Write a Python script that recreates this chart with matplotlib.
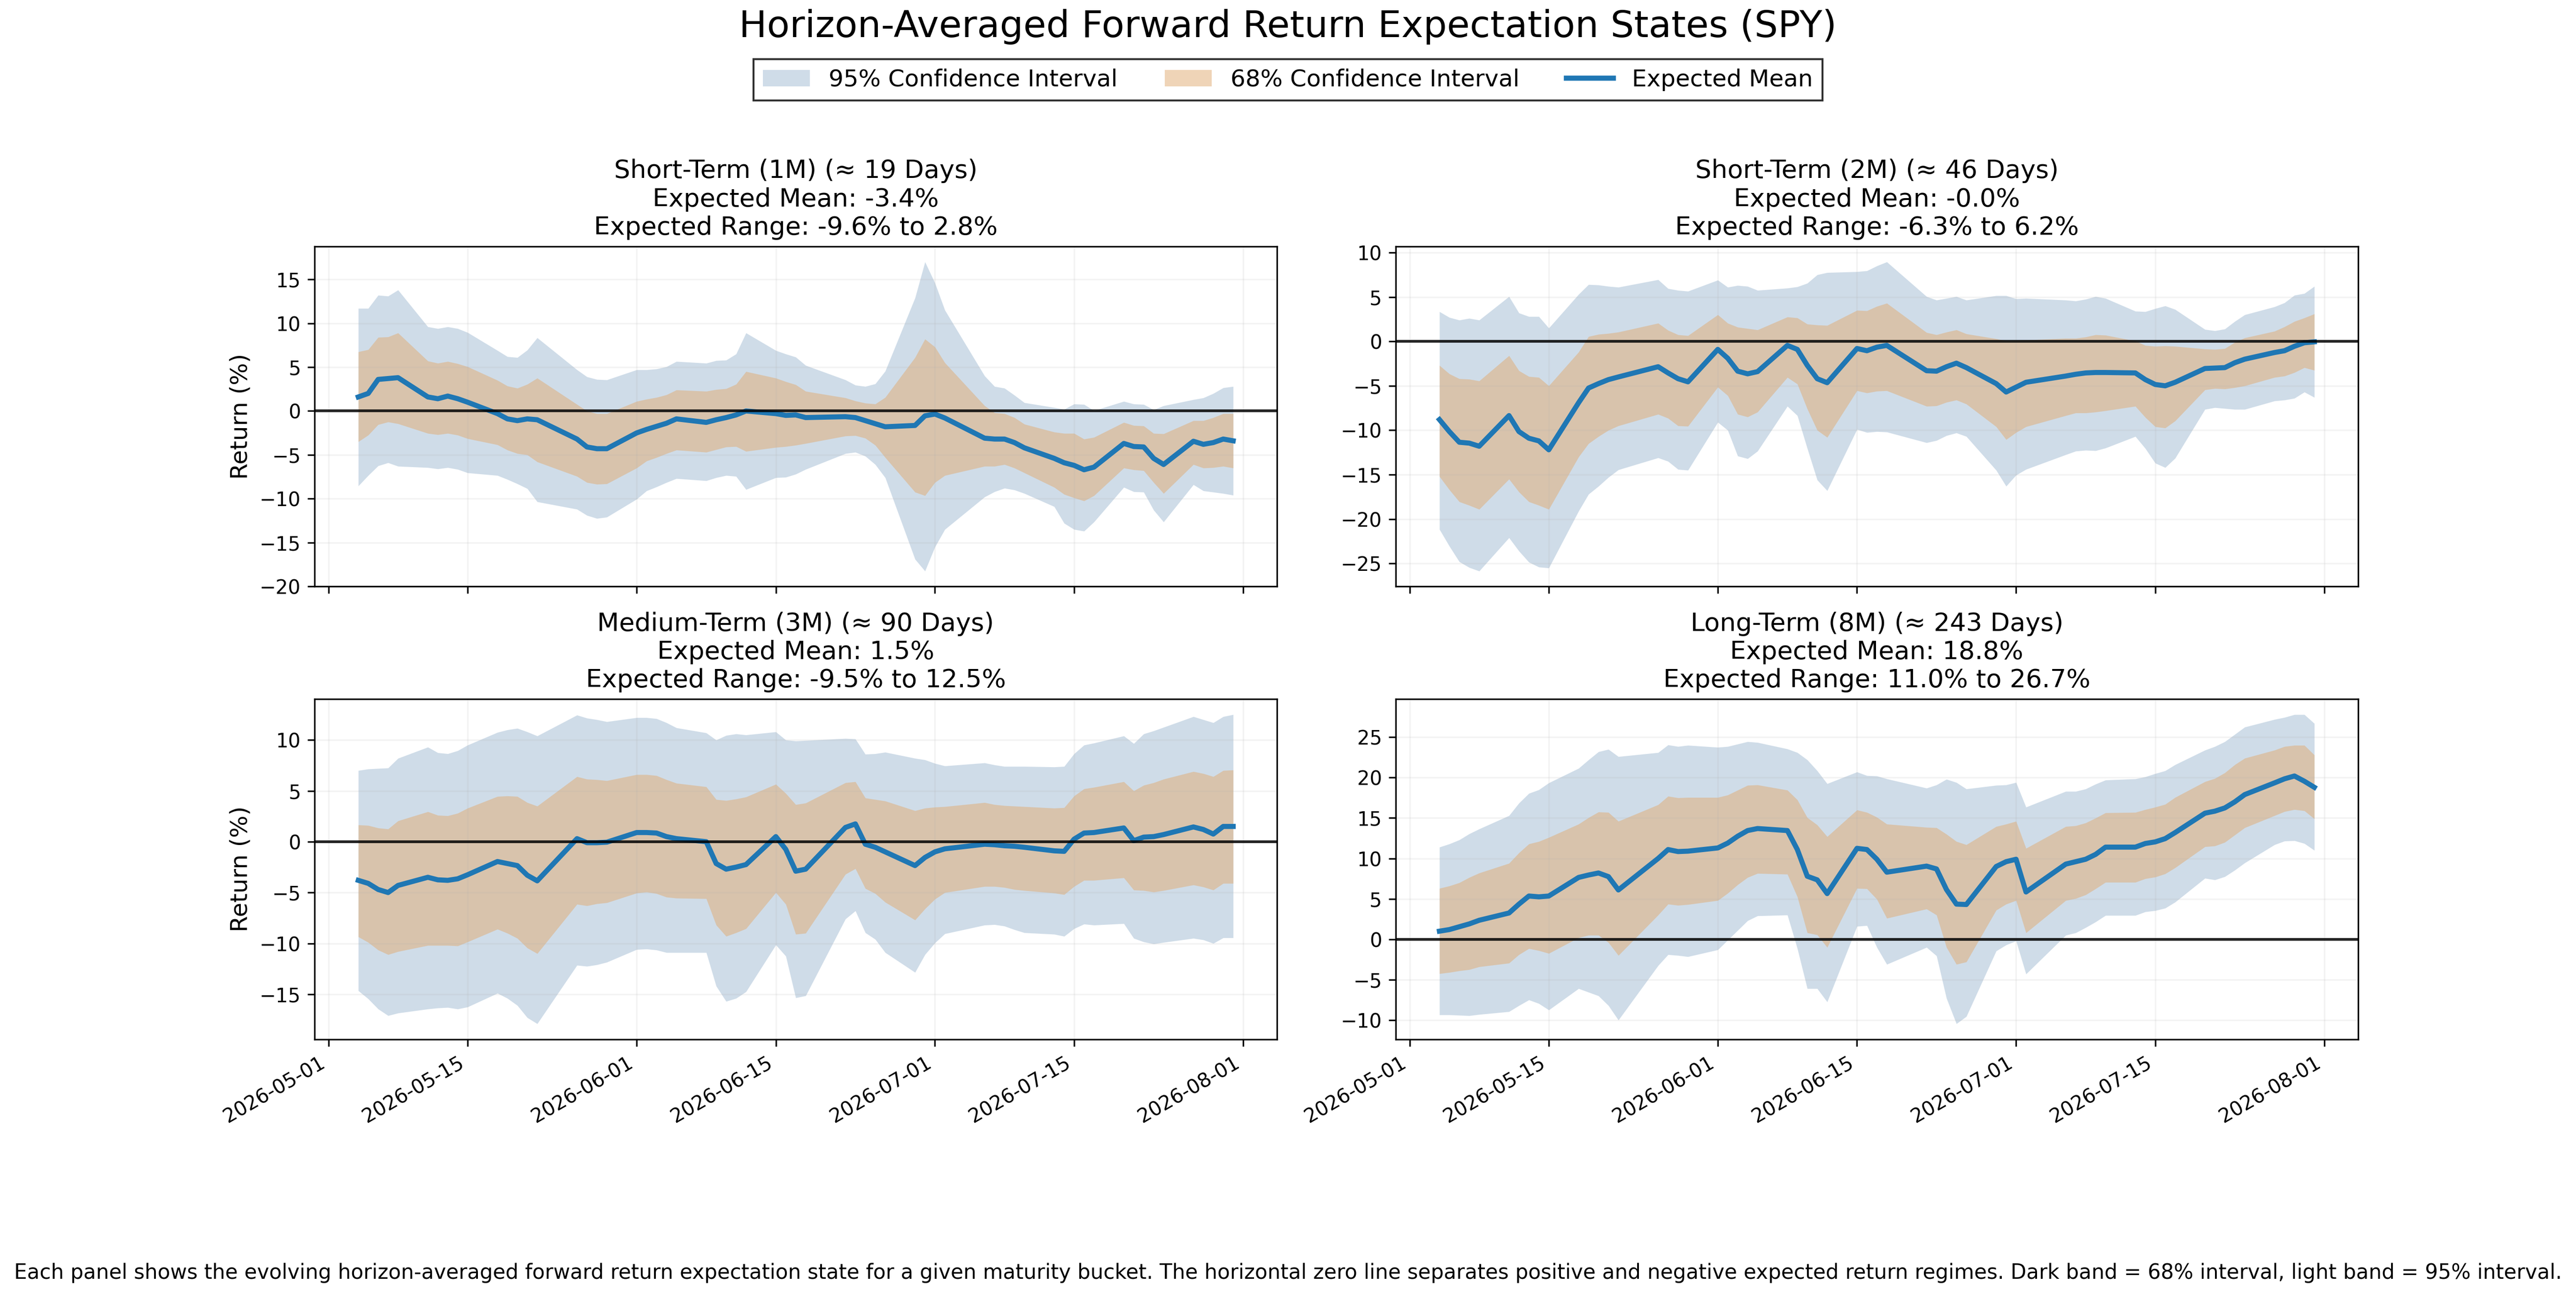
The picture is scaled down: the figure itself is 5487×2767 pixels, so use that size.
import matplotlib
matplotlib.use("Agg")
import matplotlib.pyplot as plt
from matplotlib.ticker import MultipleLocator
import pandas as pd

# trading days (NYSE holidays removed)
dates = pd.bdate_range("2026-05-04", "2026-07-31", freq="C",
                       holidays=["2026-05-25", "2026-06-19", "2026-07-03"])

titles = [
    "Short-Term (1M) (≈ 19 Days)\nExpected Mean: -3.4%\nExpected Range: -9.6% to 2.8%",
    "Short-Term (2M) (≈ 46 Days)\nExpected Mean: -0.0%\nExpected Range: -6.3% to 6.2%",
    "Medium-Term (3M) (≈ 90 Days)\nExpected Mean: 1.5%\nExpected Range: -9.5% to 12.5%",
    "Long-Term (8M) (≈ 243 Days)\nExpected Mean: 18.8%\nExpected Range: 11.0% to 26.7%",
]

# ---- 1M ----
mean_1m = [1.6, 2.0, 3.6, 3.7, 3.8,
           1.6, 1.4, 1.7, 1.4, 1.0,
           -0.3, -0.9, -1.1, -0.9, -1.0,
           -3.2, -4.1, -4.3, -4.3,
           -2.5, -2.1, -1.75, -1.4, -0.9,
           -1.3, -1.0, -0.75, -0.45, 0.0,
           -0.3, -0.5, -0.45, -0.75,
           -0.65, -0.75, -1.1, -1.45, -1.8,
           -1.65, -0.55, -0.35, -0.8,
           -3.1, -3.2, -3.2, -3.6, -4.2,
           -5.4, -5.9, -6.2, -6.7, -6.4,
           -3.7, -4.05, -4.1, -5.4, -6.1,
           -3.45, -3.8, -3.6, -3.2, -3.4]
hi95_1m = [11.7, 11.7, 13.2, 13.1, 13.8,
           9.6, 9.4, 9.6, 9.4, 8.95,
           6.9, 6.2, 6.1, 6.95, 8.35,
           4.7, 3.9, 3.6, 3.55,
           4.7, 4.7, 4.8, 5.05, 5.65,
           5.45, 5.75, 5.8, 6.5, 8.9,
           6.9, 6.5, 6.15, 5.2,
           3.55, 2.95, 2.8, 3.1, 4.55,
           12.9, 17.0, 14.6, 11.5,
           4.0, 2.8, 2.6, 1.8, 0.95,
           0.4, 0.2, 0.8, 0.75, 0.05,
           1.1, 0.8, 0.75, 0.15, 0.6,
           1.3, 1.5, 2.0, 2.65, 2.8]
hi68_1m = [6.75, 7.0, 8.4, 8.45, 8.9,
           5.7, 5.45, 5.65, 5.4, 5.05,
           3.5, 2.85, 2.6, 3.05, 3.75,
           0.75, 0.0, -0.3, -0.3,
           1.1, 1.35, 1.55, 1.85, 2.4,
           2.25, 2.45, 2.55, 3.05, 4.5,
           3.75, 3.35, 3.0, 2.25,
           1.5, 1.15, 0.9, 0.8, 1.55,
           6.1, 8.2, 7.3, 5.5,
           0.6, -0.2, -0.3, -0.75, -1.5,
           -2.4, -2.55, -2.55, -3.2, -3.0,
           -1.3, -1.65, -1.7, -2.55, -2.6,
           -1.1, -1.1, -0.75, -0.3, -0.3]
lo68_1m = [-3.5, -2.75, -1.55, -1.25, -1.45,
           -2.55, -2.7, -2.55, -2.75, -3.15,
           -3.85, -4.45, -4.85, -5.0, -5.8,
           -7.45, -8.15, -8.35, -8.3,
           -6.5, -5.7, -5.3, -4.85, -4.45,
           -4.7, -4.4, -4.1, -4.05, -4.6,
           -4.15, -4.05, -3.9, -3.7,
           -2.85, -2.8, -3.1, -3.9, -5.3,
           -9.25, -9.65, -8.15, -7.35,
           -6.3, -6.3, -6.1, -6.5, -7.05,
           -8.7, -9.5, -9.9, -10.25, -9.65,
           -6.5, -6.7, -6.8, -8.15, -9.4,
           -6.1, -6.5, -6.45, -6.3, -6.5]
lo95_1m = [-8.55, -7.35, -6.25, -5.9, -6.3,
           -6.45, -6.6, -6.45, -6.65, -7.05,
           -7.35, -7.8, -8.3, -8.85, -10.35,
           -11.2, -11.9, -12.25, -12.1,
           -10.05, -9.1, -8.65, -8.15, -7.7,
           -7.95, -7.6, -7.35, -7.45, -8.95,
           -7.6, -7.55, -7.2, -6.65,
           -4.85, -4.7, -5.15, -6.1, -7.6,
           -16.9, -18.25, -15.5, -13.5,
           -9.8, -9.2, -8.8, -9.0, -9.4,
           -10.9, -12.8, -13.5, -13.7, -12.65,
           -8.7, -9.2, -9.25, -11.3, -12.65,
           -8.4, -9.1, -9.25, -9.4, -9.6]

# ---- 2M ----
mean_2m = [-8.8, -10.15, -11.35, -11.45, -11.8,
           -8.35, -10.15, -10.9, -11.2, -12.2,
           -6.9, -5.25, -4.75, -4.3, -4.0,
           -2.85, -3.55, -4.2, -4.55,
           -0.9, -1.9, -3.35, -3.65, -3.4,
           -0.45, -0.9, -2.7, -4.2, -4.65,
           -0.8, -1.05, -0.65, -0.45,
           -3.3, -3.35, -2.85, -2.45, -2.95,
           -4.75, -5.7, -5.15, -4.6,
           -3.9, -3.7, -3.55, -3.5, -3.5,
           -3.55, -4.3, -4.85, -5.0, -4.6,
           -3.05, -3.0, -2.95, -2.4, -2.0,
           -1.25, -1.05, -0.55, -0.15, -0.05]
hi95_2m = [3.35, 2.7, 2.4, 2.6, 2.4,
           5.05, 3.2, 2.8, 2.8, 1.5,
           5.3, 6.4, 6.35, 6.2, 6.1,
           6.95, 5.95, 5.75, 5.65,
           6.9, 6.1, 6.3, 6.2, 5.75,
           6.0, 6.15, 6.55, 7.5, 7.75,
           7.85, 7.95, 8.5, 8.95,
           5.05, 4.65, 4.85, 5.05, 4.65,
           5.15, 5.15, 4.8, 4.85,
           4.65, 4.55, 4.75, 5.05, 4.85,
           3.4, 3.35, 3.7, 4.0, 3.6,
           1.35, 1.2, 1.4, 2.25, 3.0,
           3.9, 4.35, 5.2, 5.4, 6.2]
hi68_2m = [-2.7, -3.65, -4.2, -4.25, -4.45,
           -1.6, -3.3, -3.95, -4.05, -5.0,
           -1.2, 0.55, 0.8, 0.9, 1.05,
           2.05, 1.25, 0.75, 0.65,
           3.0, 2.05, 1.6, 1.45, 1.3,
           2.75, 2.65, 1.95, 1.85, 1.8,
           3.5, 3.45, 3.95, 4.3,
           1.0, 0.75, 1.05, 1.3, 0.85,
           0.3, 0.05, 0.1, 0.15,
           0.35, 0.35, 0.5, 0.75, 0.7,
           0.05, -0.45, -0.55, -0.5, -0.55,
           -0.85, -0.9, -0.8, -0.1, 0.4,
           1.15, 1.65, 2.25, 2.65, 3.1]
lo68_2m = [-15.2, -16.7, -18.05, -18.45, -18.9,
           -15.5, -16.95, -18.05, -18.45, -18.9,
           -13.0, -11.5, -10.7, -10.0, -9.5,
           -8.2, -8.65, -9.5, -9.55,
           -5.15, -6.1, -8.2, -8.5, -7.95,
           -4.05, -4.8, -7.6, -10.0, -10.8,
           -5.55, -5.8, -5.6, -5.55,
           -7.3, -7.25, -6.85, -6.6, -7.05,
           -9.6, -11.05, -10.25, -9.6,
           -8.35, -8.05, -8.05, -7.95, -7.8,
           -7.3, -8.55, -9.6, -9.75, -8.95,
           -5.45, -5.3, -5.35, -5.2, -5.0,
           -4.05, -3.9, -3.5, -2.95, -3.25]
lo95_2m = [-21.15, -23.05, -24.8, -25.45, -25.85,
           -22.1, -23.6, -24.85, -25.4, -25.5,
           -19.1, -17.2, -16.3, -15.3, -14.45,
           -13.1, -13.5, -14.4, -14.5,
           -9.1, -10.0, -12.9, -13.2, -12.35,
           -7.3, -8.35, -12.05, -15.6, -16.8,
           -9.9, -10.25, -10.15, -10.2,
           -11.4, -11.15, -10.6, -10.3, -10.7,
           -14.5, -16.3, -15.05, -14.4,
           -12.75, -12.35, -12.25, -12.3, -12.0,
           -10.7, -12.05, -13.7, -14.2, -13.15,
           -7.65, -7.45, -7.55, -7.65, -7.65,
           -6.7, -6.6, -6.4, -5.7, -6.3]

# ---- 3M ----
mean_3m = [-3.8, -4.1, -4.7, -5.0, -4.3,
           -3.5, -3.75, -3.8, -3.65, -3.25,
           -1.95, -2.15, -2.35, -3.3, -3.85,
           0.3, -0.1, -0.1, -0.05,
           0.9, 0.9, 0.85, 0.5, 0.3,
           0.0, -2.15, -2.7, -2.5, -2.25,
           0.5, -0.75, -2.9, -2.7,
           1.4, 1.75, -0.25, -0.55, -1.0,
           -2.35, -1.55, -1.0, -0.7,
           -0.25, -0.3, -0.4, -0.45, -0.55,
           -0.9, -0.95, 0.25, 0.85, 0.9,
           1.35, 0.1, 0.45, 0.5, 0.7,
           1.45, 1.2, 0.75, 1.5, 1.5]
hi95_3m = [7.0, 7.15, 7.2, 7.25, 8.2,
           9.3, 8.75, 8.65, 8.95, 9.5,
           10.75, 11.0, 11.15, 10.8, 10.4,
           12.45, 12.15, 12.0, 11.8,
           12.2, 12.2, 12.1, 11.7, 11.2,
           10.7, 10.0, 10.45, 10.6, 10.5,
           10.8, 10.0, 9.9, 9.95,
           10.15, 10.1, 8.6, 8.65, 8.8,
           8.2, 8.05, 7.7, 7.45,
           7.75, 7.55, 7.4, 7.4, 7.4,
           7.35, 7.4, 8.65, 9.5, 9.7,
           10.4, 9.65, 10.6, 10.9, 11.25,
           12.3, 12.0, 11.7, 12.3, 12.5]
hi68_3m = [1.65, 1.6, 1.35, 1.25, 2.05,
           2.95, 2.6, 2.55, 2.8, 3.3,
           4.45, 4.5, 4.45, 3.85, 3.5,
           6.4, 6.15, 6.1, 6.0,
           6.6, 6.6, 6.5, 6.1, 5.75,
           5.4, 4.15, 4.05, 4.2, 4.4,
           5.65, 4.75, 3.65, 3.8,
           5.8, 5.9, 4.3, 4.15, 4.0,
           3.05, 3.3, 3.4, 3.45,
           3.85, 3.65, 3.55, 3.5, 3.45,
           3.3, 3.35, 4.5, 5.2, 5.35,
           5.9, 5.0, 5.55, 5.8, 6.15,
           6.9, 6.7, 6.4, 7.0, 7.05]
lo68_3m = [-9.35, -9.9, -10.65, -11.1, -10.8,
           -10.2, -10.2, -10.2, -10.25, -9.85,
           -8.6, -9.0, -9.5, -10.45, -11.0,
           -6.15, -6.3, -6.1, -6.0,
           -5.05, -4.95, -5.1, -5.45, -5.55,
           -5.6, -8.2, -9.3, -8.95, -8.55,
           -5.0, -6.15, -9.1, -9.0,
           -3.2, -2.65, -4.6, -5.1, -5.95,
           -7.7, -6.6, -5.65, -5.0,
           -4.4, -4.4, -4.5, -4.7, -4.8,
           -5.05, -5.2, -4.4, -3.8, -3.8,
           -3.55, -4.75, -4.8, -4.95, -4.8,
           -4.25, -4.45, -4.75, -4.1, -4.1]
lo95_3m = [-14.65, -15.45, -16.45, -17.1, -16.85,
           -16.45, -16.35, -16.3, -16.45, -16.25,
           -14.9, -15.4, -16.1, -17.3, -17.9,
           -12.15, -12.25, -12.1, -11.85,
           -10.6, -10.55, -10.65, -10.9, -10.9,
           -10.9, -14.2, -15.7, -15.4, -14.75,
           -10.15, -11.25, -15.35, -15.15,
           -7.6, -6.8, -8.95, -9.6, -10.9,
           -12.85, -11.1, -9.95, -9.05,
           -8.2, -8.15, -8.3, -8.65, -8.95,
           -9.1, -9.3, -8.55, -8.1, -8.2,
           -8.05, -9.5, -9.85, -10.05, -9.9,
           -9.5, -9.65, -10.0, -9.45, -9.45]

# ---- 8M ----
mean_8m = [1.0, 1.2, 1.55, 1.9, 2.35,
           3.25, 4.35, 5.35, 5.25, 5.35,
           7.65, 7.95, 8.2, 7.75, 6.1,
           10.0, 11.1, 10.85, 10.9,
           11.3, 11.9, 12.75, 13.45, 13.7,
           13.45, 11.1, 7.8, 7.35, 5.65,
           11.25, 11.1, 9.9, 8.3,
           9.05, 8.7, 6.15, 4.35, 4.3,
           9.0, 9.6, 9.9, 5.85,
           9.3, 9.6, 9.9, 10.5, 11.4,
           11.4, 11.85, 12.05, 12.45, 13.2,
           15.6, 15.85, 16.25, 17.0, 17.9,
           19.35, 19.85, 20.2, 19.55, 18.8]
hi95_8m = [11.4, 11.8, 12.3, 13.05, 13.65,
           15.3, 16.85, 18.05, 18.5, 19.35,
           21.15, 22.2, 23.2, 23.5, 22.6,
           23.1, 24.05, 23.85, 24.0,
           23.75, 23.85, 24.15, 24.45, 24.35,
           23.55, 23.1, 22.2, 20.85, 19.25,
           20.7, 20.25, 20.2, 19.85,
           18.7, 19.1, 19.8, 19.4, 18.6,
           19.05, 19.1, 19.4, 16.35,
           18.3, 18.3, 18.6, 19.2, 19.7,
           19.85, 20.1, 20.5, 20.85, 21.6,
           23.4, 23.85, 24.45, 25.35, 26.25,
           27.2, 27.45, 27.8, 27.8, 26.7]
hi68_8m = [6.3, 6.6, 7.0, 7.65, 8.2,
           9.4, 10.7, 11.8, 12.1, 12.6,
           14.25, 15.05, 15.75, 15.7, 14.6,
           16.65, 17.7, 17.5, 17.55,
           17.55, 17.85, 18.45, 19.05, 19.1,
           18.45, 17.25, 15.05, 14.15, 12.7,
           16.0, 15.7, 15.1, 14.25,
           13.85, 13.8, 13.0, 12.1, 11.7,
           13.95, 14.25, 14.6, 11.25,
           13.95, 14.05, 14.4, 15.0, 15.65,
           15.7, 16.05, 16.35, 16.7, 17.55,
           19.5, 19.9, 20.6, 21.6, 22.4,
           23.4, 23.85, 24.0, 24.0, 22.8]
lo68_8m = [-4.25, -4.1, -3.9, -3.75, -3.4,
           -2.95, -1.9, -1.15, -1.4, -1.75,
           0.2, 0.5, 0.5, -0.4, -2.0,
           3.0, 4.35, 4.2, 4.3,
           4.8, 5.7, 6.75, 7.65, 8.15,
           8.05, 5.25, 0.8, 0.55, -1.0,
           6.3, 6.25, 4.95, 2.6,
           3.75, 3.0, -1.0, -3.1, -2.8,
           3.6, 4.35, 4.8, 0.8,
           4.8, 5.05, 5.5, 6.25, 7.05,
           7.05, 7.5, 7.7, 8.1, 8.85,
           11.45, 11.55, 12.0, 12.9, 13.8,
           15.3, 15.8, 16.05, 15.9, 14.9]
lo95_8m = [-9.35, -9.35, -9.4, -9.45, -9.3,
           -8.95, -8.2, -7.5, -7.95, -8.75,
           -6.1, -6.55, -7.0, -8.2, -10.0,
           -3.25, -1.9, -2.0, -2.15,
           -1.3, -0.1, 1.1, 2.3, 2.9,
           3.0, -1.15, -6.1, -6.1, -7.75,
           1.6, 1.7, -1.0, -3.1,
           -1.0, -2.05, -7.3, -10.45, -9.55,
           -1.45, -0.7, -0.2, -4.3,
           0.5, 0.8, 1.45, 2.15, 2.95,
           2.95, 3.4, 3.55, 3.85, 4.6,
           7.55, 7.35, 7.75, 8.55, 9.45,
           11.7, 12.15, 12.2, 11.85, 11.0]

panels = [
    (mean_1m, lo95_1m, hi95_1m, lo68_1m, hi68_1m),
    (mean_2m, lo95_2m, hi95_2m, lo68_2m, hi68_2m),
    (mean_3m, lo95_3m, hi95_3m, lo68_3m, hi68_3m),
    (mean_8m, lo95_8m, hi95_8m, lo68_8m, hi68_8m),
]

fig, axes = plt.subplots(2, 2, figsize=(5487 / 300, 2767 / 300), dpi=300, sharex=True)
fig.subplots_adjust(left=0.1221, right=0.9154, top=0.8103, bottom=0.1258,
                    wspace=0.1234, hspace=0.331)

for k, ax in enumerate(axes.flat):
    mean, lo95, hi95, lo68, hi68 = panels[k]
    ax.fill_between(dates, lo95, hi95, color="#a1bbd3", alpha=0.5, lw=0,
                    label="95% Confidence Interval")
    ax.fill_between(dates, lo68, hi68, color="#e1ab71", alpha=0.5, lw=0,
                    label="68% Confidence Interval")
    ax.plot(dates, mean, color="#1f77b4", lw=2.6, label="Expected Mean")
    ax.axhline(0, color="black", lw=1.4, alpha=0.85)
    ax.set_title(titles[k], fontsize=13)
    ax.yaxis.set_major_locator(MultipleLocator(5))
    ax.grid(True, alpha=0.15)
    ax.tick_params(labelsize=10)
    if k % 2 == 0:
        ax.set_ylabel("Return (%)", fontsize=12)

fig.autofmt_xdate()

handles, labels = axes[0, 0].get_legend_handles_labels()
fig.legend(handles, labels, loc="upper center", bbox_to_anchor=(0.5, 0.9635),
           ncol=3, fontsize=12, fancybox=False, edgecolor="0.2", framealpha=1)

fig.suptitle("Horizon-Averaged Forward Return Expectation States (SPY)",
             fontsize=19, y=0.993)
fig.text(0.5, 0.02,
         "Each panel shows the evolving horizon-averaged forward return expectation state "
         "for a given maturity bucket. The horizontal zero line separates positive and "
         "negative expected return regimes. Dark band = 68% interval, light band = 95% interval.",
         ha="center", va="center", fontsize=10.5)

fig.savefig("out.png", dpi=300)
